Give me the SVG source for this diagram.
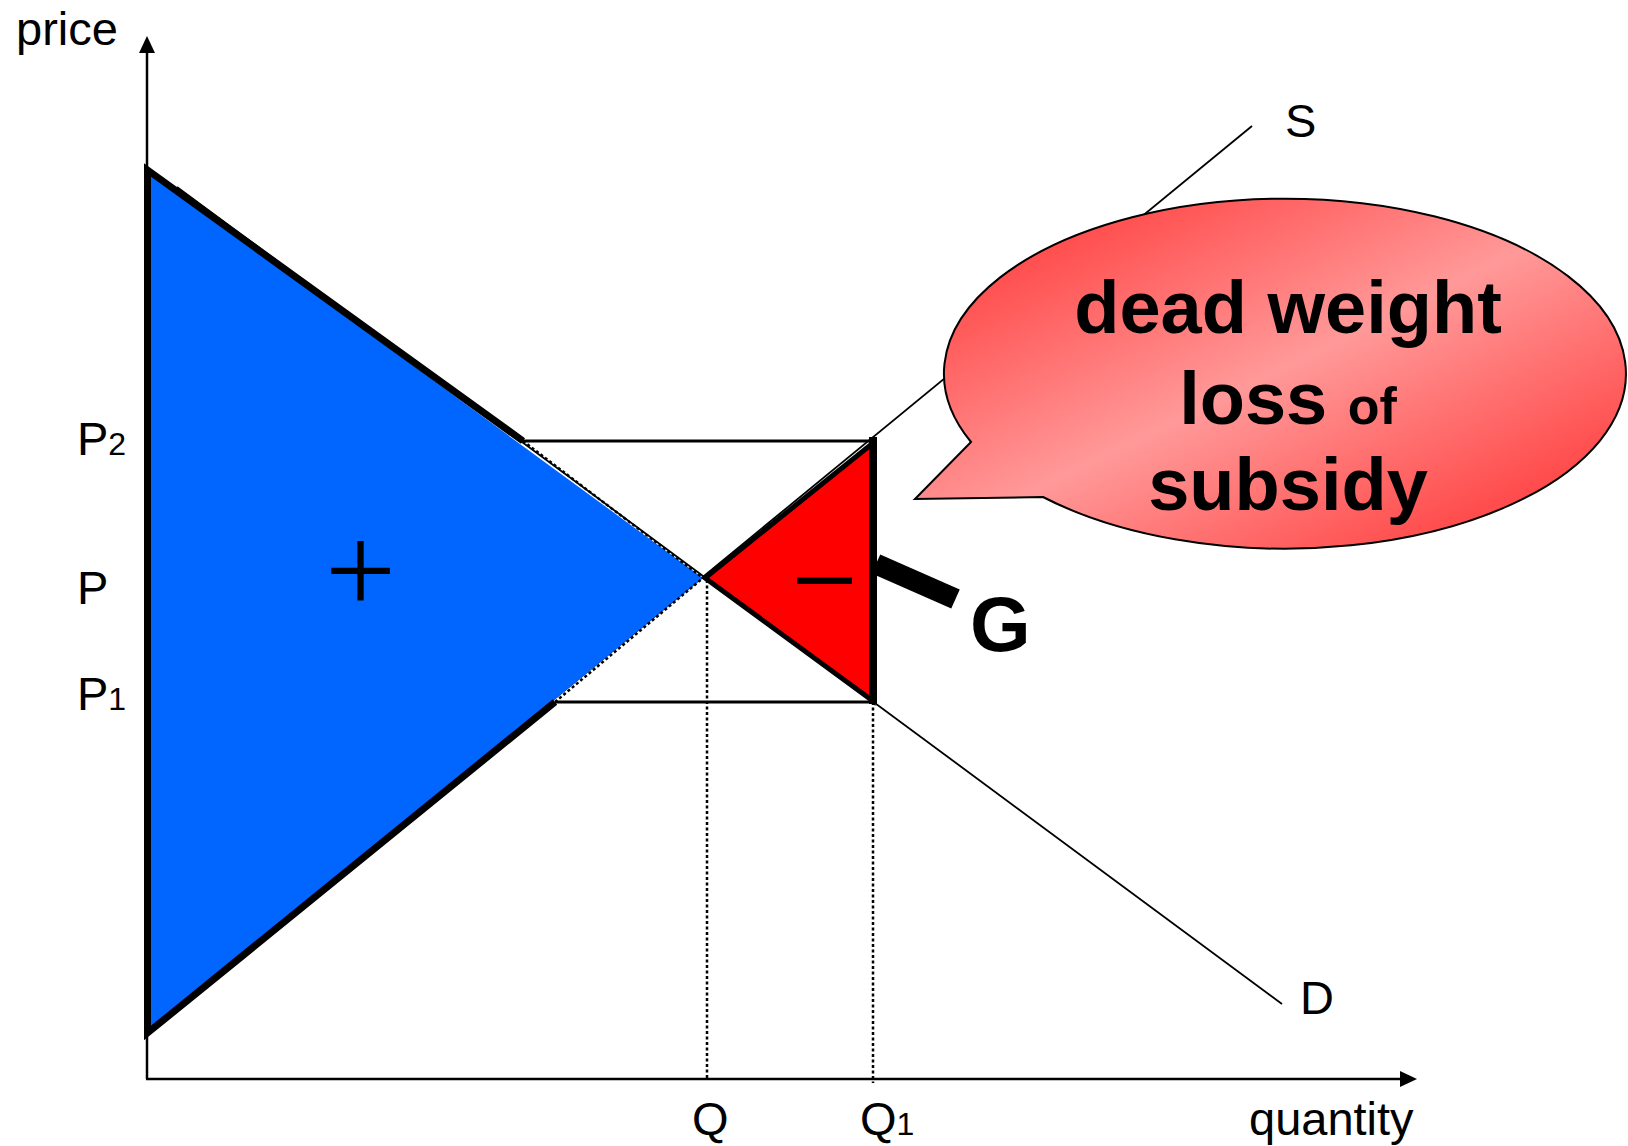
<svg xmlns="http://www.w3.org/2000/svg" width="1628" height="1146" viewBox="0 0 1628 1146">
  <defs>
    <linearGradient id="bubbleGrad" x1="0" y1="0" x2="1" y2="1">
      <stop offset="0" stop-color="#FF2A2A"/>
      <stop offset="0.5" stop-color="#FF9999"/>
      <stop offset="1" stop-color="#FF2A2A"/>
    </linearGradient>
  </defs>
  <style>
    .thin { stroke: #000; stroke-width: 1.8; fill: none; }
    .thick { stroke: #000; stroke-width: 7; fill: none; stroke-linejoin: miter; }
    .dot { stroke: #000; stroke-width: 2.5; fill: none; stroke-dasharray: 3 2.5; }
    .axis { stroke: #000; stroke-width: 2.5; fill: none; }
    .lbl { font-family: "Liberation Sans", Arial, sans-serif; font-size: 47px; fill: #000; }
    .sub { font-size: 32px; }
    .bub { font-family: "Liberation Sans", Arial, sans-serif; font-size: 74px; font-weight: bold; fill: #000; text-anchor: middle; }
  </style>

  <g id="connectors">
    <line id="demand" class="thin" x1="177" y1="187" x2="1282" y2="1004"/>
    <line id="supply" class="thin" x1="146" y1="1034" x2="1252" y2="126"/>
  </g>

  <g id="blue-area">
    <polygon points="147.5,171 703,578 147.5,1033" fill="#0066FF"/>
    <polyline class="thick" points="523,441 147.5,170 147.5,1033 555,702"/>
    <line class="dot" x1="523" y1="441" x2="703" y2="578"/>
    <line class="dot" x1="555" y1="702" x2="703" y2="578"/>
  </g>

  <g id="guides">
    <line class="dot" x1="707" y1="580" x2="707" y2="1079"/>
    <line class="dot" x1="873" y1="702" x2="873" y2="1083"/>
    <line stroke="#000" stroke-width="3" x1="523" y1="441" x2="873" y2="441"/>
    <line stroke="#000" stroke-width="3" x1="555" y1="702" x2="873" y2="702"/>
  </g>

  <g id="red-area">
    <polygon points="705,578 873,443 873,701" fill="#FF0000" stroke="#000" stroke-width="5" stroke-linejoin="miter"/>
    <line stroke="#000" stroke-width="8" x1="873" y1="437" x2="873" y2="704"/>
  </g>

  <g id="g-pointer">
    <line stroke="#000" stroke-width="21" x1="876" y1="564" x2="955.5" y2="599"/>
  </g>

  <g id="bubble">
    <path d="M 971,442 L 915,499 L 1043,497 A 341 175 0 1 0 971,442 Z" fill="url(#bubbleGrad)" stroke="#000" stroke-width="2"/>
    <text class="bub" x="1288" y="333">dead weight</text>
    <text class="bub" x="1288" y="424">loss <tspan font-size="52">of</tspan></text>
    <text class="bub" x="1288" y="510">subsidy</text>
  </g>

  <g id="axes">
    <line class="axis" x1="147" y1="1079" x2="147" y2="50"/>
    <polygon points="147,36 139,53 155,53" fill="#000"/>
    <line class="axis" x1="146" y1="1079" x2="1403" y2="1079"/>
    <polygon points="1417,1079 1400,1071 1400,1087" fill="#000"/>
  </g>

  <g id="labels">
    <text class="lbl" x="16" y="45">price</text>
    <text class="lbl" x="1249" y="1135">quantity</text>
    <text class="lbl" x="77" y="455">P<tspan class="sub">2</tspan></text>
    <text class="lbl" x="77" y="604">P</text>
    <text class="lbl" x="77" y="710">P<tspan class="sub">1</tspan></text>
    <text class="lbl" x="692" y="1135">Q</text>
    <text class="lbl" x="860" y="1135">Q<tspan class="sub">1</tspan></text>
    <text class="lbl" x="1285" y="137">S</text>
    <text class="lbl" x="1300" y="1014">D</text>
    <text x="360.5" y="613" font-family="'Liberation Serif', 'Times New Roman', serif" font-size="126" text-anchor="middle" fill="#000">+</text>
    <text x="797" y="606" font-family="'Liberation Sans', Arial, sans-serif" font-size="99" fill="#000">–</text>
    <text x="970" y="651" font-family="'Liberation Sans', Arial, sans-serif" font-size="78" font-weight="bold" fill="#000">G</text>
  </g>
</svg>
